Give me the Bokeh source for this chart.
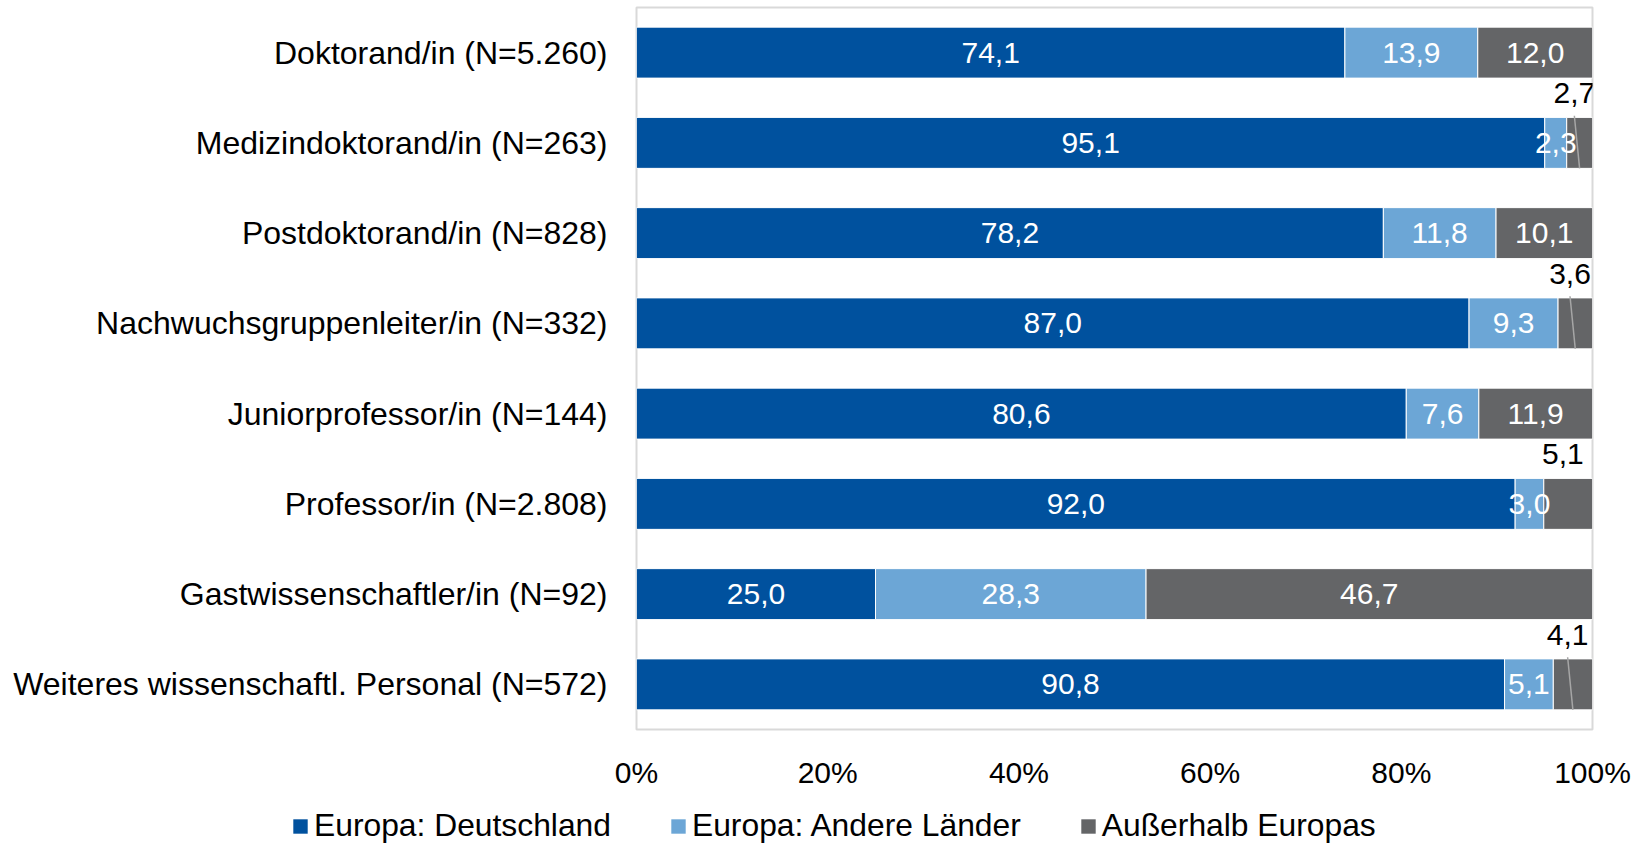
from bokeh.plotting import figure
from bokeh.models import (ColumnDataSource, FixedTicker, Range1d, Legend, LegendItem)
from bokeh.embed import file_html
from bokeh.resources import INLINE
from bokeh.core.properties import value

# ---------------- data ----------------
categories = [
    "Doktorand/in (N=5.260)",
    "Medizindoktorand/in (N=263)",
    "Postdoktorand/in (N=828)",
    "Nachwuchsgruppenleiter/in (N=332)",
    "Juniorprofessor/in (N=144)",
    "Professor/in (N=2.808)",
    "Gastwissenschaftler/in (N=92)",
    "Weiteres wissenschaftl. Personal (N=572)",
]
deutschland = [74.1, 95.1, 78.2, 87.0, 80.6, 92.0, 25.0, 90.8]
andere_laender = [13.9, 2.3, 11.8, 9.3, 7.6, 3.0, 28.3, 5.1]
ausserhalb = [12.0, 2.7, 10.1, 3.6, 11.9, 5.1, 46.7, 4.1]
series_names = ["Europa: Deutschland", "Europa: Andere Länder", "Außerhalb Europas"]
x_ticks = [0, 20, 40, 60, 80, 100]
x_tick_labels = ["0%", "20%", "40%", "60%", "80%", "100%"]

# ---------------- style ----------------
colors = ["#00519E", "#6CA6D6", "#646567"]
FONT = "Liberation Sans"
BAR_H = 0.565
W = 1639
H_MAIN = 798
H_LEG = 46

series = [deutschland, andere_laender, ausserhalb]
ys = list(range(len(categories)))
totals = [sum(s[i] for s in series) for i in ys]
keys = ["s0", "s1", "s2"]
data = {"y": ys}
for k, s in zip(keys, series):
    data[k] = [v / t * 100 for v, t in zip(s, totals)]
source = ColumnDataSource(data)

p = figure(width=W, height=H_MAIN, output_backend="svg", toolbar_location=None,
           x_range=Range1d(0, 100), y_range=Range1d(len(categories) - 0.5, -0.5),
           min_border_left=636, min_border_right=47, min_border_top=7,
           min_border_bottom=H_MAIN - 729)
p.background_fill_color = "white"
p.border_fill_color = "white"
p.outline_line_color = "#d9d9d9"
p.outline_line_width = 2
p.grid.visible = False

renderers = p.hbar_stack(keys, y="y", height=BAR_H, color=colors, source=source,
                         line_color="white", line_width=1)

# axes
p.yaxis.ticker = FixedTicker(ticks=ys)
p.yaxis.major_label_overrides = {i: c for i, c in zip(ys, categories)}
p.xaxis.ticker = FixedTicker(ticks=x_ticks)
p.xaxis.major_label_overrides = {t: l for t, l in zip(x_ticks, x_tick_labels)}
for ax in (p.xaxis, p.yaxis):
    ax.axis_line_color = None
    ax.major_tick_line_color = None
    ax.minor_tick_line_color = None
    ax.major_tick_out = 0
    ax.major_tick_in = 0
    ax.major_label_text_font = FONT
    ax.major_label_text_color = "#000000"
p.yaxis.major_label_text_font_size = "32px"
p.yaxis.major_label_standoff = 29
p.xaxis.major_label_text_font_size = "30px"
p.xaxis.major_label_standoff = 26

# data labels
in_x, in_y, in_t = [], [], []
out_x, out_y, out_t = [], [], []
ld_x0, ld_y0, ld_x1, ld_y1 = [], [], [], []
for i in ys:
    left = 0.0
    for si, k in enumerate(keys):
        w = data[k][i]
        raw = series[si][i]
        c = left + w / 2
        txt = f"{raw:.1f}".replace(".", ",")
        if si == 2 and raw < 6:
            lx = c - 0.55
            out_x.append(lx); out_y.append(i - 0.55); out_t.append(txt)
            if raw < 5:
                ld_x0.append(c); ld_y0.append(i + BAR_H / 2)
                ld_x1.append(lx); ld_y1.append(i - 0.30)
        else:
            in_x.append(c); in_y.append(i); in_t.append(txt)
        left += w

p.segment(x0=ld_x0, y0=ld_y0, x1=ld_x1, y1=ld_y1, line_color="#a6a6a6", line_width=1.5)
p.text(x=in_x, y=in_y, text=in_t, text_color="white", text_font=value(FONT),
       text_font_size="30px", text_align="center", text_baseline="middle")
p.text(x=out_x, y=out_y, text=out_t, text_color="black", text_font=value(FONT),
       text_font_size="30px", text_align="center", text_baseline="middle")

# legend strip: a separate root below the chart; its stacked renderers share the
# chart's data but lie outside the strip's (empty) view, so only the legend shows
lf = figure(width=W, height=H_LEG, output_backend="svg", toolbar_location=None,
            x_range=Range1d(-2, -1), y_range=Range1d(len(categories) - 0.5, -0.5),
            x_axis_type=None, y_axis_type=None,
            min_border_left=0, min_border_right=0, min_border_top=0, min_border_bottom=0)
lf.outline_line_color = None
lf.grid.visible = False
lf.background_fill_color = "white"
lf.border_fill_color = "white"
leg_renderers = lf.hbar_stack(keys, y="y", height=BAR_H, color=colors, source=source,
                              line_color=None)
legend = Legend(items=[LegendItem(label=n, renderers=[r]) for n, r in zip(series_names, leg_renderers)],
                orientation="horizontal", location=(291, 0),
                glyph_width=18, glyph_height=18, label_standoff=5, spacing=58,
                padding=0, margin=0, border_line_color=None, background_fill_alpha=0,
                label_text_font=FONT, label_text_font_size="31.8px", label_text_color="#000000")
lf.add_layout(legend, "center")

open("out.html", "w").write(file_html([p, lf], INLINE))
